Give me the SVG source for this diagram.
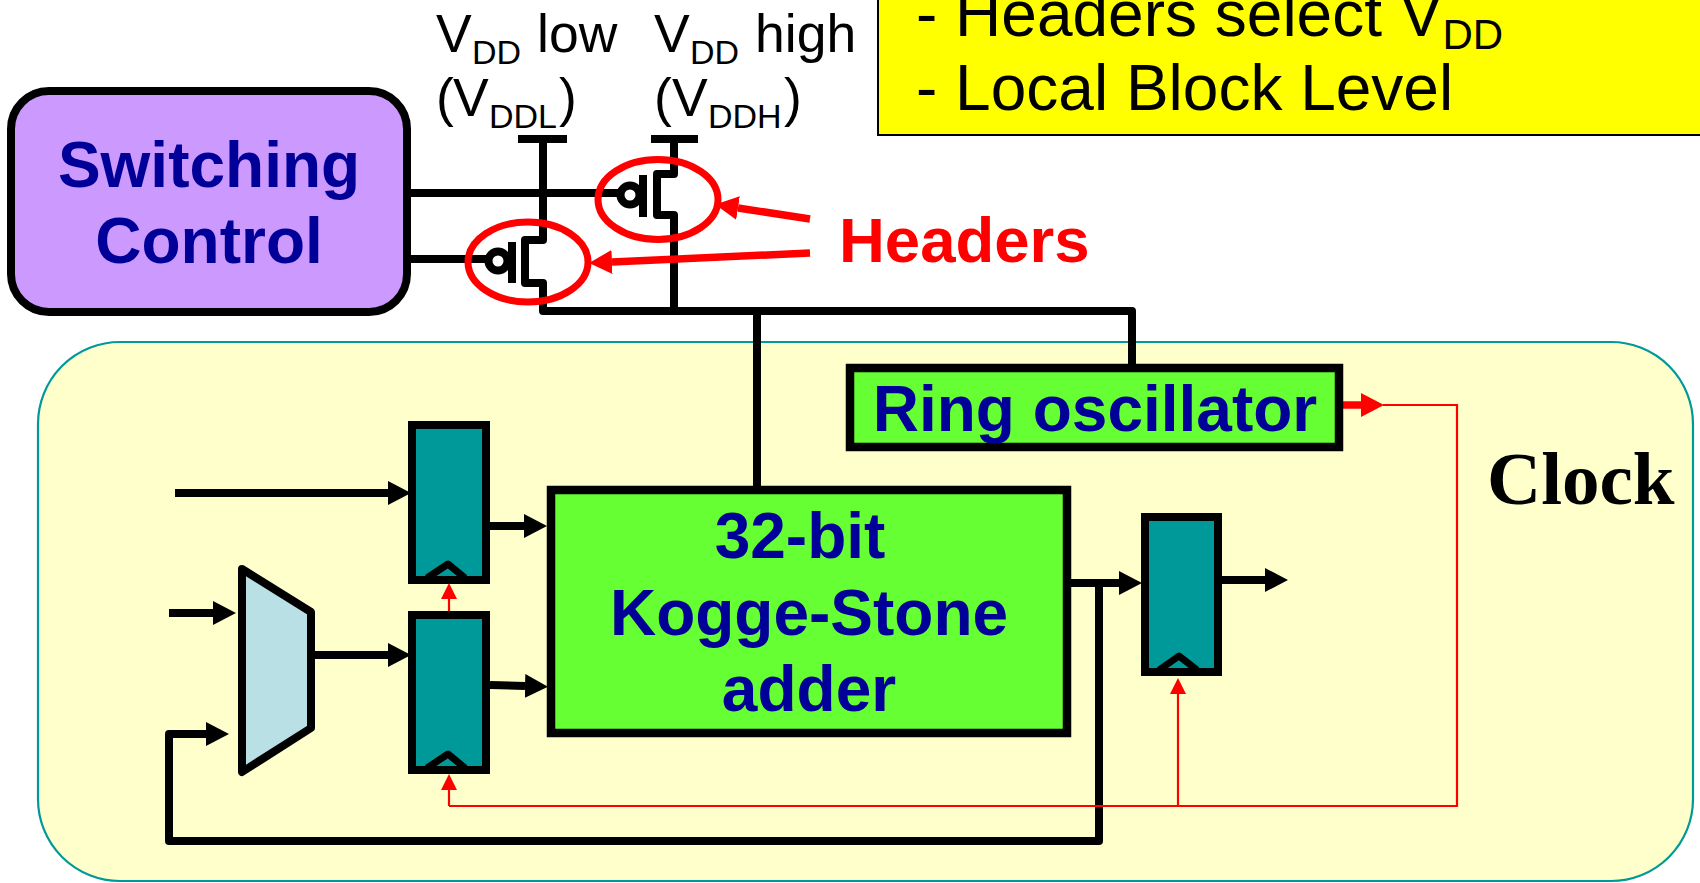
<svg xmlns="http://www.w3.org/2000/svg" width="1700" height="883" viewBox="0 0 1700 883">
<style>
text{font-family:"Liberation Sans",Arial,sans-serif}
.blue{font-weight:bold;fill:#000099;font-size:64px;text-anchor:middle}
.volt{font-size:53.5px;fill:#000}
.sub{font-size:34px;fill:#000}
.yel{font-size:64px;fill:#000}
.box{stroke:#000;stroke-width:8.5;stroke-linejoin:miter}
.reg{fill:#009999;stroke:#000;stroke-width:8}
.chev{fill:none;stroke:#000;stroke-width:7;stroke-linejoin:round}
.w{fill:none;stroke:#000;stroke-width:8;stroke-linejoin:round}
.a{fill:none;stroke:#000;stroke-width:8;stroke-linejoin:round;marker-end:url(#bh)}
.r{fill:none;stroke:#f00;stroke-width:2.2}
.ra{fill:none;stroke:#f00;stroke-width:2.2;marker-end:url(#rh)}
.rt{fill:none;stroke:#f00;stroke-width:7.500}
</style>
<defs>
<marker id="bh" markerUnits="userSpaceOnUse" markerWidth="23" markerHeight="24" refX="0" refY="12" orient="auto" viewBox="0 0 23 24"><path d="M0 0L23 12L0 24Z" fill="#000"/></marker>
<marker id="rh" markerUnits="userSpaceOnUse" markerWidth="16" markerHeight="16" refX="0" refY="8" orient="auto" viewBox="0 0 16 16"><path d="M0 0L16 8L0 16Z" fill="#f00"/></marker>
<marker id="rb" markerUnits="userSpaceOnUse" markerWidth="23" markerHeight="24" refX="0" refY="12" orient="auto" viewBox="0 0 23 24"><path d="M0 0L23 12L0 24Z" fill="#f00"/></marker>
</defs>
<rect width="1700" height="883" fill="#fff"/>

<g id="clock-domain">
<rect x="38" y="342" width="1655" height="539" rx="82" ry="82" fill="#FFFFCC" stroke="#009999" stroke-width="2.2"/>
<text x="1487" y="504" font-size="75" font-weight="bold" style="font-family:'Liberation Serif','Times New Roman',serif">Clock</text>
</g>

<g id="note">
<rect x="878" y="-20" width="830" height="155" fill="#FFFF00" stroke="#000" stroke-width="2"/>
<text class="yel" x="916" y="36">- Headers select V<tspan dy="13" style="font-size:42px">DD</tspan></text>
<text class="yel" x="916" y="110">- Local Block Level</text>
</g>

<g id="connectors">
<path class="w" d="M518 139H567M651 139H698"/>
<path class="w" d="M407 193H620M407 259H490"/>
<path class="w" d="M543 139V240H525V283H543V311H1132V366"/>
<path class="w" d="M674 139V174H657V215H674V311"/>
<path class="w" d="M757 311V487"/>
<path class="a" d="M175 493H388"/>
<path class="a" d="M490 526H524"/>
<path class="a" d="M490 685L525 686"/>
<path class="a" d="M169 613H213"/>
<path class="a" d="M315 655H388"/>
<path class="a" d="M1071 583H1119"/>
<path class="a" d="M1222 580H1265"/>
<path class="a" d="M1099 583V841H169V734H206"/>
<path class="r" d="M1383 405H1457V806H449"/>
<path class="ra" d="M449 806V790"/>
<path class="ra" d="M1178 806V694"/>
<path class="ra" d="M449 612V599"/>
<path class="rt" d="M1340 405H1361" marker-end="url(#rb)"/>
</g>

<g id="switching-control">
<rect x="11" y="91" width="396" height="221" rx="38" ry="38" fill="#CC99FF" stroke="#000" stroke-width="8"/>
<text class="blue" x="209" y="187">Switching</text>
<text class="blue" x="209" y="263">Control</text>
</g>

<g id="label-vddl">
<text class="volt" x="436" y="52">V</text><text class="sub" x="472" y="64">DD</text><text class="volt" x="537" y="52">low</text>
<text class="volt" x="436" y="116">(</text><text class="volt" x="453" y="116">V</text><text class="sub" x="489" y="128">DDL</text><text class="volt" x="559" y="116">)</text>
</g>
<g id="label-vddh">
<text class="volt" x="654" y="52">V</text><text class="sub" x="690" y="64">DD</text><text class="volt" x="755" y="52">high</text>
<text class="volt" x="654" y="116">(</text><text class="volt" x="672" y="116">V</text><text class="sub" x="708" y="128">DDH</text><text class="volt" x="784" y="116">)</text>
</g>

<g id="header-high">
<circle cx="630" cy="195" r="9.5" fill="#fff" stroke="#000" stroke-width="8"/>
<path d="M643 175V217" stroke="#000" stroke-width="8" fill="none"/>
<ellipse cx="658" cy="199.500" rx="60" ry="40" fill="none" stroke="#f00" stroke-width="7"/>
</g>
<g id="header-low">
<circle cx="498" cy="261" r="9.5" fill="#fff" stroke="#000" stroke-width="8"/>
<path d="M512 242V283" stroke="#000" stroke-width="8" fill="none"/>
<ellipse cx="528" cy="262" rx="60" ry="40" fill="none" stroke="#f00" stroke-width="7"/>
</g>
<g id="headers-label">
<text x="839" y="262" font-size="63.500" font-weight="bold" fill="#f00">Headers</text>
<path class="rt" d="M810 219L738 208" marker-end="url(#rb)"/>
<path class="rt" d="M810 253L612 262" marker-end="url(#rb)"/>
</g>

<g id="ring-oscillator">
<rect class="box" x="850" y="368" width="489" height="79" fill="#66FF33"/>
<text class="blue" x="1095" y="431">Ring oscillator</text>
</g>
<g id="adder">
<rect class="box" x="551" y="490" width="516" height="243" fill="#66FF33"/>
<text class="blue" x="800" y="558">32-bit</text>
<text class="blue" x="809" y="635">Kogge-Stone</text>
<text class="blue" x="809" y="711">adder</text>
</g>
<g id="mux"><path d="M242 569L311 612V728L242 772Z" fill="#B9E0E5" stroke="#000" stroke-width="8" stroke-linejoin="round"/></g>
<g id="reg-a"><rect class="reg" x="412" y="425" width="74" height="155"/><path class="chev" d="M427 578L448 564L465 578"/></g>
<g id="reg-b"><rect class="reg" x="412" y="615" width="74" height="155"/><path class="chev" d="M427 768L448 754L465 768"/></g>
<g id="reg-c"><rect class="reg" x="1145" y="517" width="73" height="155"/><path class="chev" d="M1159 670L1179 656L1197 670"/></g>
</svg>
